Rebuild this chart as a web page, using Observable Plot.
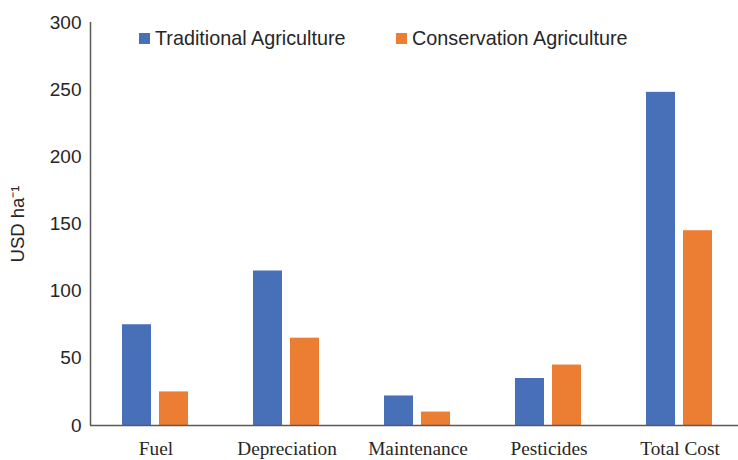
<!DOCTYPE html>
<html>
<head>
<meta charset="utf-8">
<script src="https://cdn.jsdelivr.net/npm/d3@7"></script>
<script src="https://cdn.jsdelivr.net/npm/@observablehq/plot@0.6"></script>
<style>
  body { margin: 0; background: #fff; }
  #wrap { position: relative; width: 738px; height: 460px; }
  .leg { position: absolute; top: 26px; font-family: "Liberation Sans", Arial, sans-serif; font-size: 19.8px; color: #262626; display: flex; align-items: center; line-height: 24px; white-space: nowrap; }
  .sw { width: 11px; height: 11px; display: inline-block; margin-right: 5px; }
</style>
</head>
<body>
<div id="wrap"></div>
<script>
const categories = ["Fuel", "Depreciation", "Maintenance", "Pesticides", "Total Cost"];
const seriesNames = ["Traditional Agriculture", "Conservation Agriculture"];
const traditional = [75, 115, 22, 35, 248];
const conservation = [25, 65, 10, 45, 145];
const yTicks = [0, 50, 100, 150, 200, 250, 300];
const colors = ["#4870B8", "#EC7E33"];
const yLabel = "USD ha⁻¹";

const rows = [];
categories.forEach((c, i) => {
  rows.push({category: c, series: seriesNames[0], value: traditional[i]});
  rows.push({category: c, series: seriesNames[1], value: conservation[i]});
});

const chart = Plot.plot({
  width: 738,
  height: 460,
  marginLeft: 90,
  marginRight: 0,
  marginTop: 22,
  marginBottom: 35,
  x: {domain: categories, range: [90, 745], padding: 0},
  y: {domain: [0, 300]},
  color: {domain: seriesNames, range: colors},
  marks: [
    Plot.barY(rows.filter(d => d.series === seriesNames[0]), {x: "category", y: "value", fill: "series", insetLeft: 32, insetRight: 70}),
    Plot.barY(rows.filter(d => d.series === seriesNames[1]), {x: "category", y: "value", fill: "series", insetLeft: 69, insetRight: 33}),
    Plot.ruleY([0], {stroke: "#595959", strokeWidth: 1.5}),
    Plot.ruleX([categories[0]], {y1: 0, y2: 300, dx: -65.5, stroke: "#595959", strokeWidth: 1.5}),
    Plot.axisY({ticks: yTicks, tickSize: 0, tickPadding: 9, fontSize: 19, label: null, fontFamily: "Liberation Sans, Arial, sans-serif", color: "#262626"}),
    Plot.axisX({tickSize: 0, tickPadding: 16, fontSize: 19.3, label: null, fontFamily: "Liberation Serif, Times New Roman, serif", color: "#262626"}),
    Plot.text([yLabel], {frameAnchor: "left", textAnchor: "middle", dx: -72, rotate: -90, fontSize: 18.5, fontFamily: "Liberation Sans, Arial, sans-serif", fill: "#262626"})
  ],
  style: {background: "#fff", color: "#262626", overflow: "hidden"}
});

const wrap = document.getElementById("wrap");
wrap.appendChild(chart);

const legPos = [139, 396];
seriesNames.forEach((s, i) => {
  const d = document.createElement("div");
  d.className = "leg";
  d.style.left = legPos[i] + "px";
  d.innerHTML = `<span class="sw" style="background:${colors[i]}"></span><span>${s}</span>`;
  wrap.appendChild(d);
});
</script>
</body>
</html>
